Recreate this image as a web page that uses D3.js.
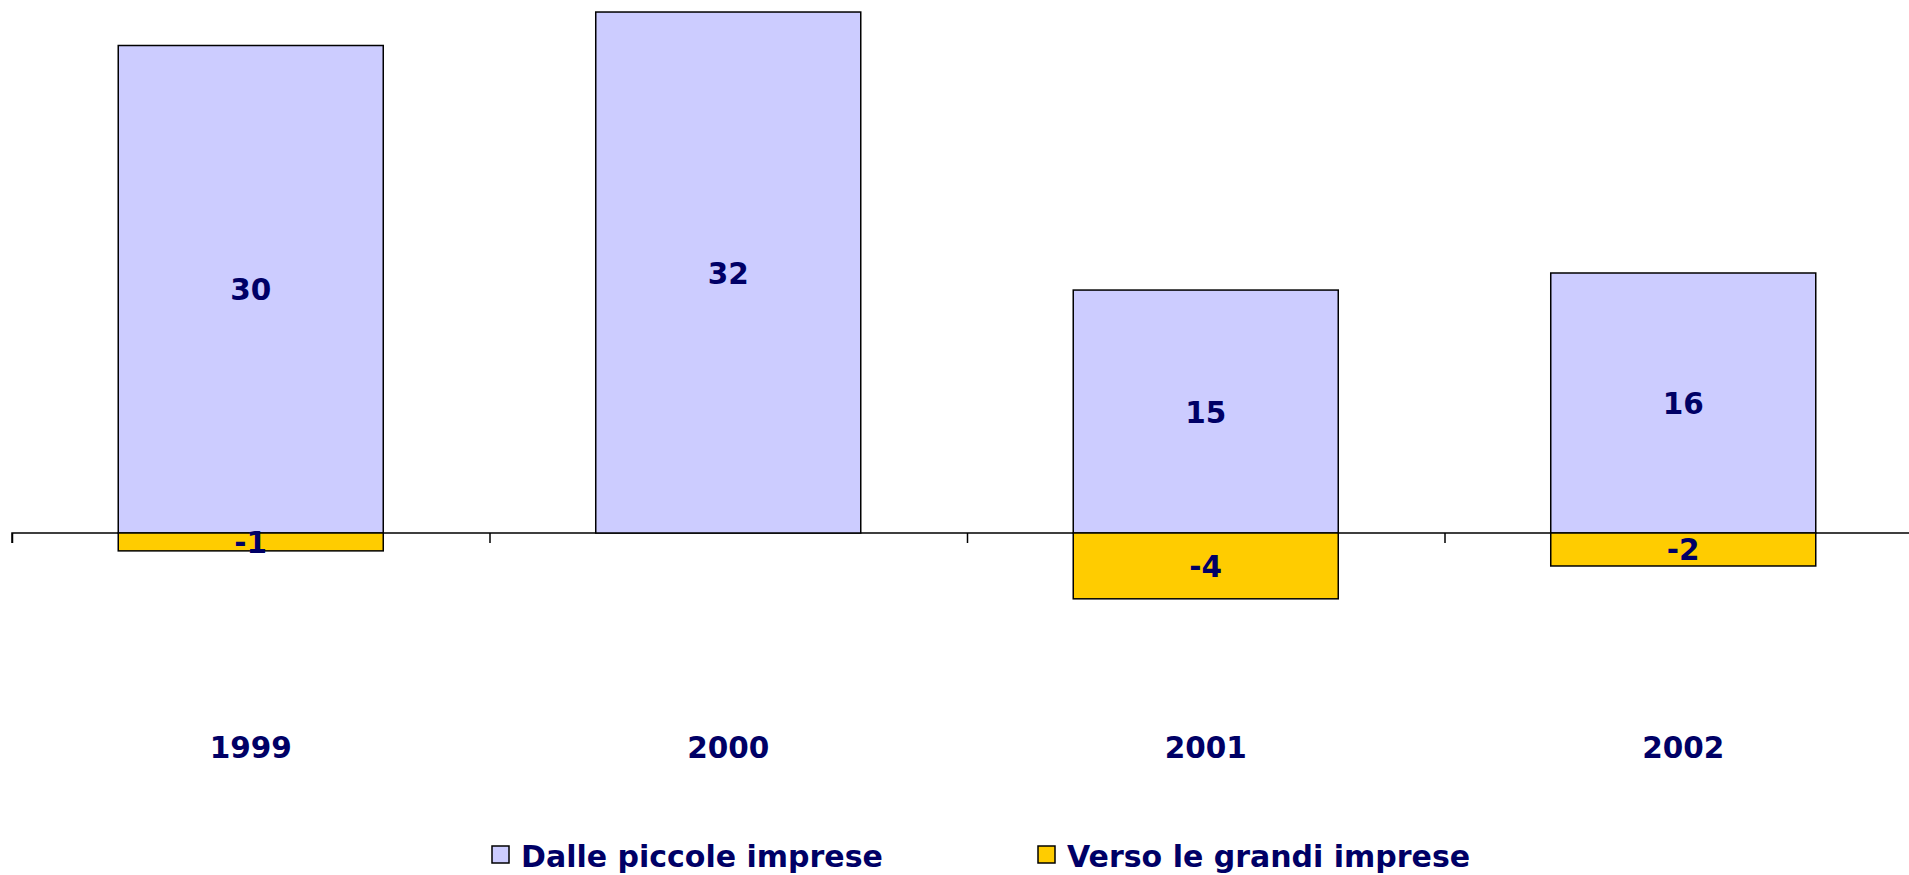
<!DOCTYPE html>
<html>
<head>
<meta charset="utf-8">
<script src="https://cdn.jsdelivr.net/npm/d3@7"></script>
<style>
  body { margin: 0; background: #fff; }
  text { font-family: "DejaVu Sans", Verdana, sans-serif; font-weight: bold; fill: #000066; }
</style>
</head>
<body>
<div class="chart"></div>
<script>
let years = ['1999', '2000', '2001', '2002'];
let piccole = [30, 32.06, 14.95, 16.0];
let grandi = [-1.1, 0, -4.05, -2.03];
let seriesNames = ['Dalle piccole imprese', 'Verso le grandi imprese'];
let colors = ['#CCCCFF', '#FFCC00'];

let width = 1909, height = 875;

let svg = d3.select('.chart')
  .append('svg')
    .attr('width', width)
    .attr('height', height);

let x = d3.scaleBand()
  .domain(years)
  .range([12, 1922])
  .paddingInner(0.445)
  .paddingOuter(0.2225);

let y = d3.scaleLinear()
  .domain([-8, 32.8])
  .range([663, 0]);

// zero line with ticks between categories
let step = x.step();
let axis = d3.axisBottom(d3.scaleLinear().domain([0, 4]).range([12, 12 + 4 * step]))
  .ticks(4)
  .tickSize(10)
  .tickFormat('');
svg.append('g')
  .attr('transform', `translate(0, ${y(0)})`)
  .call(axis)
  .call(g => g.select('.domain').attr('d', `M12,10V0H${width}`).attr('stroke', '#000').attr('stroke-width', 1.5))
  .call(g => g.selectAll('.tick line').attr('stroke', '#000').attr('stroke-width', 1.5));

let series = [piccole, grandi];
series.forEach((vals, si) => {
  let data = years.map((yr, i) => ({ yr, v: vals[i] })).filter(d => d.v !== 0);
  svg.append('g').selectAll('rect')
    .data(data)
    .join('rect')
      .attr('x', d => x(d.yr))
      .attr('width', x.bandwidth())
      .attr('y', d => y(Math.max(0, d.v)))
      .attr('height', d => Math.abs(y(d.v) - y(0)))
      .attr('fill', colors[si])
      .attr('stroke', '#000')
      .attr('stroke-width', 1.5);

  svg.append('g').selectAll('text')
    .data(data)
    .join('text')
      .attr('x', d => x(d.yr) + x.bandwidth() / 2)
      .attr('y', d => (y(d.v) + y(0)) / 2 + 1)
      .attr('text-anchor', 'middle')
      .attr('dominant-baseline', 'central')
      .style('font-size', '29.5px')
      .text(d => Math.round(d.v));
});

// category labels
svg.append('g').selectAll('text')
  .data(years)
  .join('text')
    .attr('x', d => x(d) + x.bandwidth() / 2)
    .attr('y', 748)
    .attr('text-anchor', 'middle')
    .attr('dominant-baseline', 'central')
    .style('font-size', '29.5px')
    .text(d => d);

// legend
let legendX = [492, 1038];
let legend = svg.append('g').selectAll('g')
  .data(seriesNames)
  .join('g')
    .attr('transform', (d, i) => `translate(${legendX[i]}, 846)`);
legend.append('rect')
  .attr('width', 17)
  .attr('height', 17)
  .attr('fill', (d, i) => colors[i])
  .attr('stroke', '#000')
  .attr('stroke-width', 1.5);
legend.append('text')
  .attr('x', 29)
  .attr('y', 10)
  .attr('dominant-baseline', 'central')
  .style('font-size', '30px')
  .text(d => d);
</script>
</body>
</html>
